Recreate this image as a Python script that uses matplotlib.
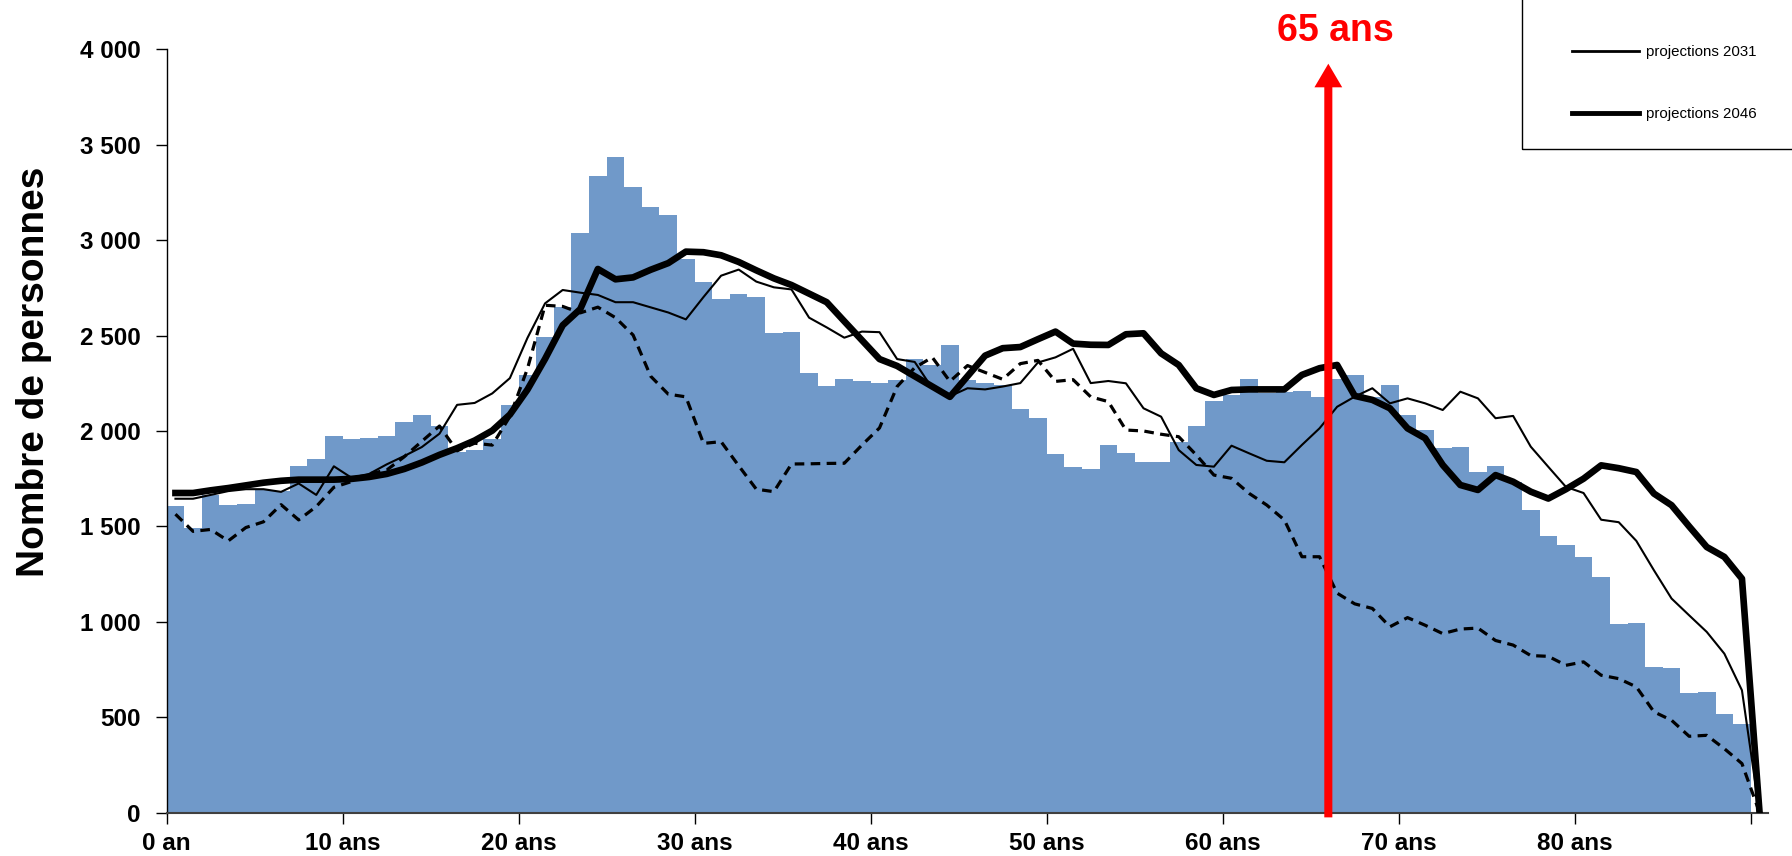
import numpy as np
import matplotlib
matplotlib.use("Agg")                     # no display in the sandbox
import matplotlib.pyplot as plt
from matplotlib.lines import Line2D
from matplotlib.patches import Rectangle

plt.rcParams["font.family"] = ["Liberation Sans", "DejaVu Sans"]

# Population by single year of age (0 .. 90).
AGES = np.arange(0, 91)
POP_BARS = [
    1608, 1494, 1665, 1614, 1620, 1690, 1685, 1815, 1855, 1974,
    1956, 1964, 1976, 2048, 2082, 2024, 1890, 1900, 1960, 2136,
    2291, 2492, 2649, 3038, 3335, 3438, 3280, 3175, 3130, 2900,
    2783, 2693, 2720, 2700, 2512, 2521, 2305, 2236, 2272, 2260,
    2251, 2269, 2377, 2345, 2453, 2265, 2251, 2242, 2115, 2070,
    1881, 1809, 1800, 1926, 1886, 1836, 1840, 1944, 2028, 2159,
    2189, 2272, 2199, 2202, 2211, 2180, 2270, 2295, 2180, 2241,
    2084, 2005, 1913, 1916, 1783, 1818, 1734, 1586, 1448, 1401,
    1340, 1235, 987, 994, 763, 756, 629, 634, 519, 466,
    0,
]
PROJ_DASHED = [
    1564, 1474, 1484, 1424, 1494, 1524, 1614, 1534, 1604, 1705,
    1735, 1775, 1795, 1865, 1946, 2026, 1896, 1936, 1926, 2076,
    2327, 2659, 2653, 2619, 2649, 2594, 2503, 2287, 2193, 2179,
    1935, 1944, 1818, 1695, 1682, 1827, 1828, 1830, 1831, 1926,
    2016, 2233, 2332, 2386, 2260, 2343, 2307, 2271, 2353, 2370,
    2260, 2269, 2179, 2154, 2005, 2000, 1983, 1970, 1874, 1769,
    1752, 1673, 1612, 1534, 1341, 1341, 1150, 1094, 1070, 974,
    1022, 982, 938, 962, 967, 902, 878, 823, 819, 772,
    790, 720, 702, 659, 528, 484, 400, 405, 335, 257,
    0,
]
PROJ_2031 = [
    1645, 1645, 1665, 1685, 1695, 1695, 1681, 1725, 1665, 1815,
    1755, 1775, 1825, 1869, 1916, 1986, 2137, 2147, 2197, 2277,
    2488, 2669, 2739, 2725, 2713, 2675, 2675, 2648, 2621, 2585,
    2702, 2814, 2846, 2783, 2753, 2742, 2594, 2543, 2489, 2521,
    2518, 2377, 2362, 2224, 2182, 2224, 2218, 2233, 2251, 2359,
    2386, 2431, 2251, 2262, 2250, 2119, 2075, 1900, 1822, 1813,
    1923, 1883, 1844, 1836, 1927, 2014, 2127, 2180, 2224, 2145,
    2171, 2145, 2110, 2206, 2171, 2067, 2079, 1918, 1812, 1707,
    1675, 1535, 1522, 1424, 1270, 1122, 1034, 947, 833, 641,
    0,
]
PROJ_2046 = [
    1675, 1675, 1689, 1701, 1715, 1729, 1739, 1745, 1745, 1745,
    1749, 1759, 1775, 1801, 1835, 1875, 1910, 1950, 2002, 2086,
    2217, 2378, 2554, 2639, 2849, 2795, 2805, 2845, 2880, 2940,
    2937, 2921, 2886, 2842, 2800, 2765, 2720, 2675, 2575, 2476,
    2377, 2341, 2287, 2233, 2179, 2287, 2395, 2434, 2440, 2481,
    2521, 2458, 2452, 2451, 2507, 2512, 2407, 2346, 2224, 2189,
    2215, 2218, 2218, 2218, 2294, 2329, 2346, 2184, 2163, 2119,
    2014, 1962, 1822, 1717, 1691, 1769, 1734, 1682, 1646, 1695,
    1750, 1820, 1805, 1785, 1672, 1611, 1500, 1392, 1340, 1226,
    0,
]

XTICK_AGES = [0, 10, 20, 30, 40, 50, 60, 70, 80, 90]
XTICK_LABELS = ["0 an", "10 ans", "20 ans", "30 ans", "40 ans",
                "50 ans", "60 ans", "70 ans", "80 ans", ""]
YTICKS = [0, 500, 1000, 1500, 2000, 2500, 3000, 3500, 4000]
YTICK_LABELS = ["0", "500", "1 000", "1 500", "2 000",
                "2 500", "3 000", "3 500", "4 000"]
RETIREMENT_AGE = 66          # arrow sits at the 65/66 boundary
RETIREMENT_LABEL = "65 ans"

BAR_COLOR = "#7099c9"

fig = plt.figure(figsize=(17.92, 8.56), dpi=100)
ax = fig.add_axes([0.0930, 0.0507, 0.8938, 0.8916])

ax.bar(AGES, POP_BARS, width=1.0, align="edge", color=BAR_COLOR,
       linewidth=0, zorder=1)

xc = AGES + 0.5                                   # lines sit on bar centres
ax.plot(xc, PROJ_DASHED, color="black", lw=2.3, ls=(0, (3, 2)), zorder=3)
ax.plot(xc, PROJ_2031, color="black", lw=1.5, zorder=3)
ax.plot(xc, PROJ_2046, color="black", lw=4.8, zorder=4)

# red "65 ans" arrow
ax.annotate("", xy=(RETIREMENT_AGE, 3925), xytext=(RETIREMENT_AGE, -25),
            arrowprops=dict(facecolor="red", edgecolor="none", width=5.8,
                            headwidth=20, headlength=17, shrink=0),
            annotation_clip=False, zorder=6)
ax.text(RETIREMENT_AGE + 0.4, 4042, RETIREMENT_LABEL, color="red",
        fontsize=27, fontweight="bold", ha="center", va="baseline",
        clip_on=False)

ax.set_xlim(0, 91)
ax.set_ylim(0, 4000)
ax.set_xticks(XTICK_AGES)
ax.set_xticklabels(XTICK_LABELS, fontweight="bold")
ax.set_yticks(YTICKS)
ax.set_yticklabels(YTICK_LABELS, fontweight="bold")
ax.tick_params(axis="both", direction="out", length=8, width=1,
               labelsize=17.5, colors="black")
ax.tick_params(axis="y", pad=11)
ax.tick_params(axis="x", pad=6)

ax.set_ylabel("Nombre de personnes", fontsize=28, fontweight="bold")
ax.yaxis.set_label_coords(-0.0718, 0.578)

for side in ("top", "right"):
    ax.spines[side].set_visible(False)
ax.spines["left"].set_linewidth(1.0)
ax.spines["bottom"].set_linewidth(1.5)
ax.spines["bottom"].set_color("#404040")

# legend box runs off the top-right corner of the figure
fig.add_artist(Rectangle((0.8492, 0.8264), 0.3, 0.3, transform=fig.transFigure,
                         fill=False, edgecolor="black", lw=1.0))
handles = [Line2D([], [], color="black", lw=2.0),
           Line2D([], [], color="black", lw=3.5)]
fig.legend(handles, ["projections 2031", "projections 2046"],
           loc="upper left", bbox_to_anchor=(0.8771, 0.947), frameon=False,
           fontsize=10.8, handlelength=4.5, handletextpad=0.45,
           labelspacing=3.2, borderpad=0, borderaxespad=0)

fig.savefig("out.png", dpi=100)
